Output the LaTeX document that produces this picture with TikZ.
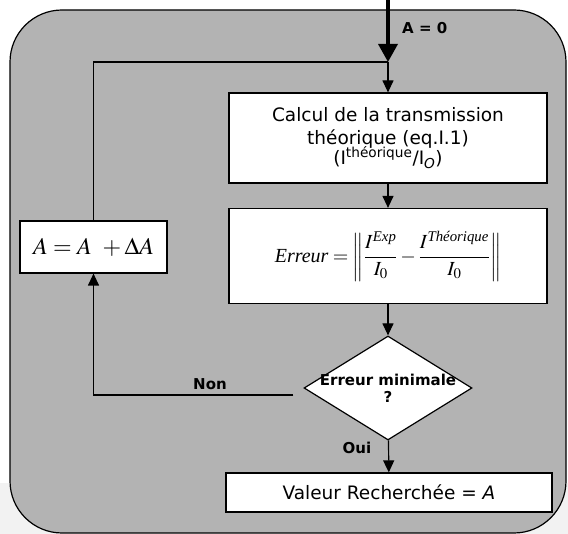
\documentclass[tikz,border=0pt]{standalone}
\usepackage{amsmath}
\usepackage{mathptmx}
\usepackage{fontspec}
\setmainfont{DejaVu Sans}
\newfontfamily\timesfont{Liberation Serif}
\usetikzlibrary{arrows.meta,shapes.geometric}
\definecolor{ink}{HTML}{000000}
\definecolor{panelfill}{HTML}{B3B3B3}
\definecolor{pagefill}{HTML}{F2F2F2}
\newcommand{\boxfont}{\fontsize{18.5}{23}\selectfont}
\newcommand{\tagfont}{\fontsize{15}{17}\selectfont\bfseries}
\newcommand{\formulafont}{\fontsize{20}{24}\selectfont}
\tikzset{
 every node/.append style={text=ink,align=center},
 box/.style={draw=ink,fill=white,line width=1.2pt,inner sep=2pt,font=\boxfont},
 decision/.style={diamond,draw=ink,fill=white,line width=1.2pt,inner sep=0pt,
   minimum width=168pt,minimum height=104pt},
 tag/.style={font=\tagfont,inner sep=1pt},
 flow/.style={-{Triangle[length=12pt,width=11pt]},draw=ink,line width=1.2pt},
 start/.style={-{Triangle[length=18pt,width=19pt]},draw=ink,line width=3.5pt},
 route/.style={draw=ink,line width=1.2pt},
}

\begin{document}
\begin{tikzpicture}[x=1pt,y=-1pt]
\useasboundingbox (0,0) rectangle (568,534);
\fill[white] (0,0) rectangle (568,483);
\fill[pagefill] (0,483) rectangle (568,534);
\draw[route,fill=panelfill,rounded corners=52pt] (10,10) rectangle (566,533);

\node[box,minimum width=318pt,minimum height=90pt] (calc) at (388,138) {
  Calcul de la transmission\\
  théorique (eq.I.1)\\[-3pt]
  (I\textsuperscript{théorique}/I\textsubscript{\itshape O})};
\node[box,minimum width=318pt,minimum height=95pt,font=\formulafont] (err) at (388,256) {
  $\text{\timesfont\itshape Erreur} = \left\| \dfrac{I^{\text{\timesfont\itshape Exp}}}{I_0} - \dfrac{I^{\text{\timesfont\itshape Théorique}}}{I_0} \right\|$};
\node[box,minimum width=147pt,minimum height=52pt,font=\fontsize{24}{28}\selectfont] (incr) at (93.5,247) {$A = A\ +\Delta A$};
\node[decision,label={[tag,align=center]center:Erreur minimale\\?}] (test) at (388,388) {};
\node[box,minimum width=326pt,minimum height=39pt] (result) at (389,492.5) {Valeur Recherchée = \textit{A}};

\node[tag,anchor=west] (init) at (401,28) {A = 0};
\node[tag] (no) at (210,384) {Non};
\node[tag] (yes) at (357,448) {Oui};

\coordinate (entry) at (388,0);
\coordinate (merge) at (388,62);
\coordinate (loop) at ([xshift=-10pt,yshift=-7pt]test.west);

\draw[start] (entry) -- (merge);
\draw[flow] (merge) -- (calc);
\draw[flow] (calc) -- (err);
\draw[flow] (err) -- (test);
\draw[flow] (test) -- (result);
\draw[flow] (loop) -| (incr);
\draw[route] (incr) |- (merge);
\end{tikzpicture}
\end{document}
